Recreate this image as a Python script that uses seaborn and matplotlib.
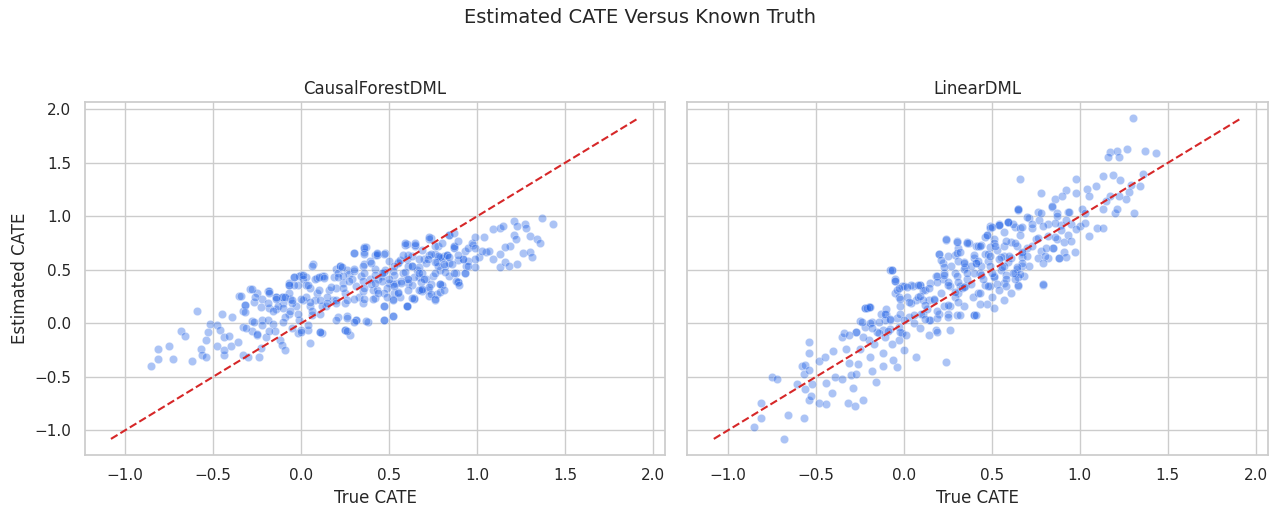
import pandas as pd
import matplotlib
matplotlib.use("Agg")
import matplotlib.pyplot as plt
import seaborn as sns

# CausalForestDML: true CATE vs estimated CATE, read off the picture by region
cf_true_low = [-0.85, -0.81, -0.81, -0.75, -0.73, -0.68, -0.66, -0.62, -0.59, -0.57,
               -0.56, -0.54, -0.54, -0.53, -0.52, -0.48, -0.48, -0.46, -0.45, -0.44,
               -0.44, -0.44, -0.41, -0.40, -0.39, -0.36, -0.35, -0.33, -0.33, -0.32,
               -0.33, -0.30, -0.29, -0.28, -0.28, -0.27, -0.25, -0.25, -0.24, -0.23,
               -0.22, -0.22, -0.20, -0.19, -0.19, -0.18, -0.16, -0.15, -0.14, -0.12,
               -0.11, -0.10, -0.10, -0.09, -0.07, -0.07, -0.06, -0.04, -0.03, -0.02,
               -0.02, -0.01, 0.00, 0.01, 0.03, 0.04, 0.05, 0.07, 0.09, 0.09,
               0.12, 0.12, 0.14, 0.18, 0.20, 0.22, 0.25, 0.26, 0.26, 0.28,
               0.30, 0.31, 0.36, 0.36, 0.38, 0.42]
cf_est_low = [-0.40, -0.24, -0.33, -0.21, -0.33, -0.07, -0.12, -0.35, 0.12, -0.24,
              -0.30, -0.31, -0.16, -0.08, -0.01, -0.21, -0.02, -0.06, 0.09, -0.13,
              -0.30, -0.25, -0.12, -0.21, 0.06, -0.17, 0.26, -0.03, 0.12, 0.17,
              -0.30, -0.31, 0.32, 0.02, -0.07, 0.20, -0.11, 0.28, -0.31, -0.23,
              0.23, 0.03, -0.13, 0.03, 0.30, 0.14, -0.01, -0.07, 0.25, -0.16,
              -0.20, 0.19, 0.25, -0.25, 0.36, 0.09, 0.23, 0.43, 0.16, 0.36,
              -0.09, 0.03, 0.45, 0.22, 0.43, -0.06, -0.18, 0.55, 0.42, 0.28,
              -0.09, 0.44, 0.16, 0.22, 0.51, 0.54, -0.06, 0.07, 0.50, -0.11,
              0.66, 0.03, 0.71, 0.67, 0.01, 0.64]

cf_true_mid = [-0.18, -0.14, -0.11, -0.07, -0.04, -0.01, 0.01, 0.03, 0.06, 0.08,
               0.10, 0.13, 0.16, 0.19, 0.22, 0.24, 0.25, 0.27, 0.30, 0.31,
               0.33, 0.36, 0.37, 0.39, 0.41, 0.42, 0.43, 0.46, 0.48, 0.50,
               0.53, 0.55, 0.58, 0.60, 0.61, 0.63, 0.65, 0.67, 0.70, 0.72,
               0.74, 0.76, 0.77, 0.79, 0.81, 0.84, 0.87, 0.89, 0.92, 0.21,
               0.26, 0.31, 0.37, 0.47, 0.52, 0.60, 0.64, 0.12, 0.08, 0.05,
               0.00, 0.11, 0.25, 0.06, -0.14, -0.09, 0.20, 0.35, 0.42, 0.56,
               0.69, 0.80, 0.88, 0.94, 0.20, 0.29, 0.34, 0.44, 0.48, 0.39,
               0.52, 0.60, 0.66, 0.71, 0.77, 0.82, 0.75, 0.60, 0.54, 0.35,
               0.25, 0.15, 0.03, -0.05, -0.13, -0.07, 0.05, 0.21, 0.24, 0.30,
               0.63, 0.69, 0.78, 0.80]
cf_est_mid = [0.30, 0.25, 0.25, 0.28, 0.36, 0.44, 0.41, 0.36, 0.54, 0.41,
              0.31, 0.44, 0.31, 0.43, 0.54, 0.38, 0.28, 0.46, 0.66, 0.35,
              0.25, 0.55, 0.71, 0.41, 0.31, 0.51, 0.65, 0.44, 0.66, 0.38,
              0.28, 0.57, 0.47, 0.74, 0.38, 0.54, 0.72, 0.43, 0.60, 0.31,
              0.80, 0.65, 0.27, 0.50, 0.63, 0.44, 0.71, 0.39, 0.60, 0.06,
              0.05, 0.03, 0.02, 0.03, 0.07, 0.16, 0.24, 0.16, 0.22, 0.16,
              -0.06, -0.08, -0.06, 0.08, 0.13, 0.06, 0.22, 0.19, 0.24, 0.25,
              0.30, 0.36, 0.47, 0.54, 0.33, 0.41, 0.44, 0.41, 0.50, 0.58,
              0.49, 0.41, 0.50, 0.41, 0.57, 0.54, 0.44, 0.60, 0.38, 0.30,
              0.19, 0.25, 0.25, 0.19, 0.16, 0.38, 0.33, 0.47, 0.44, 0.49,
              0.63, 0.69, 0.72, 0.61]

cf_true_core = [0.23, 0.30, -0.04, 0.01, 0.10, 0.13, 0.21, 0.27, -0.07, 0.04,
                0.17, 0.24, -0.28, -0.34, -0.26, -0.18, -0.14, -0.09, -0.05, 0.00,
                0.05, 0.11, 0.15, 0.20, 0.26, 0.30, -0.32, -0.23, -0.19, -0.16,
                -0.10, -0.06, -0.02, 0.06, 0.11, -0.32, -0.27, -0.31, -0.22, -0.18,
                -0.25, -0.10, -0.05, 0.04, 0.00, 0.11, 0.20, 0.26, 0.30,
                0.36, 0.36, 0.43, 0.47, 0.59, 0.65, 0.73, 0.84, 0.87, 0.93,
                0.98, 0.73, 0.79, 0.83, 0.35, 0.40, 0.50, 0.55, 0.61, 0.67,
                0.71, 0.78, 0.84, 0.89, 0.95, 0.99, 0.36, 0.42, 0.47, 0.53,
                0.59, 0.64, 0.69, 0.76, 0.82, 0.87, 0.93, 0.35, 0.40, 0.46,
                0.52, 0.57, 0.63, 0.68, 0.74, 0.79, 0.89, 0.36, 0.43, 0.49,
                0.55, 0.61, 0.68, 0.73, 0.79, 0.36, 0.41, 0.47, 0.52, 0.64,
                0.73, 0.76, 0.47, 0.60]
cf_est_core = [0.53, 0.51, 0.43, 0.45, 0.43, 0.42, 0.43, 0.40, 0.36, 0.36,
               0.34, 0.33, 0.32, 0.26, 0.25, 0.28, 0.23, 0.25, 0.22, 0.23,
               0.20, 0.22, 0.19, 0.19, 0.22, 0.23, 0.17, 0.15, 0.19, 0.12,
               0.14, 0.12, 0.09, 0.12, 0.09, 0.11, 0.01, -0.04, -0.02, -0.07,
               -0.10, 0.01, -0.04, -0.02, -0.08, -0.08, 0.03, -0.07, 0.01,
               0.70, 0.65, 0.64, 0.65, 0.73, 0.73, 0.79, 0.83, 0.70, 0.68,
               0.73, 0.64, 0.62, 0.64, 0.54, 0.56, 0.58, 0.56, 0.54, 0.53,
               0.56, 0.54, 0.56, 0.59, 0.58, 0.53, 0.47, 0.45, 0.48, 0.45,
               0.48, 0.43, 0.47, 0.47, 0.48, 0.47, 0.47, 0.40, 0.37, 0.40,
               0.37, 0.40, 0.36, 0.39, 0.37, 0.37, 0.39, 0.33, 0.31, 0.33,
               0.29, 0.31, 0.31, 0.34, 0.29, 0.23, 0.23, 0.28, 0.23, 0.23,
               0.26, 0.22, 0.16, 0.16]

cf_true_high = [0.43, 0.47, 0.52, 0.47, 0.60, 0.59, 0.65, 0.63, 0.67, 0.69,
                0.73, 0.74, 0.76, 0.79, 0.81, 0.84, 0.87, 0.88, 0.90, 0.93,
                0.78, 0.74, 0.83, 0.87, 0.95, 0.97, 0.99, 1.04, 1.01, 1.05,
                1.09, 1.13, 1.15, 1.13, 1.16, 1.18, 1.21, 1.23, 1.27, 1.28,
                1.30, 1.21, 1.22, 1.19, 1.16, 1.13, 1.09, 1.23, 1.26, 1.30,
                1.31, 1.34, 1.36, 1.37, 1.43, 1.07, 0.99, 1.03, 0.92, 0.89,
                0.84, 0.81, 0.95, 0.99, 0.76, 0.61, 0.56, 0.53, 0.58, 0.63,
                0.67, 0.70, 0.61, 0.57, 0.53, 0.50, 0.46, 0.42, 0.49, 0.55,
                0.52, 0.44, 0.76, 0.86, 0.72, 0.67, 0.80, 0.89]
cf_est_high = [0.66, 0.03, 0.07, 0.16, 0.16, 0.75, 0.75, 0.24, 0.31, 0.32,
               0.81, 0.27, 0.23, 0.37, 0.31, 0.83, 0.84, 0.40, 0.36, 0.47,
               0.63, 0.65, 0.64, 0.72, 0.70, 0.75, 0.81, 0.81, 0.62, 0.67,
               0.88, 0.89, 0.91, 0.53, 0.57, 0.54, 0.96, 0.91, 0.93, 0.89,
               0.82, 0.83, 0.79, 0.72, 0.71, 0.65, 0.60, 0.55, 0.66, 0.67,
               0.62, 0.79, 0.75, 0.98, 0.93, 0.68, 0.70, 0.68, 0.60, 0.64,
               0.62, 0.55, 0.54, 0.60, 0.72, 0.64, 0.59, 0.54, 0.64, 0.54,
               0.47, 0.41, 0.41, 0.38, 0.35, 0.41, 0.47, 0.38, 0.25, 0.28,
               0.22, 0.28, 0.57, 0.55, 0.60, 0.60, 0.75, 0.77]

# LinearDML
lin_true_low = [-0.68, -0.85, -0.81, -0.81, -0.66, -0.57, -0.75, -0.72, -0.61, -0.58,
                -0.56, -0.57, -0.54, -0.54, -0.54, -0.56, -0.54, -0.53, -0.52, -0.48,
                -0.48, -0.45, -0.44, -0.44, -0.41, -0.40, -0.39, -0.35, -0.35, -0.34,
                -0.33, -0.32, -0.31, -0.30, -0.29, -0.28, -0.27, -0.27, -0.26, -0.25,
                -0.23, -0.22, -0.20, -0.18, -0.18, -0.16, -0.12, -0.10, -0.07, -0.05,
                -0.04, -0.06, -0.12, -0.19, -0.20, -0.23, 0.07, 0.24, 0.00, -0.03,
                -0.07, -0.01, -0.05, -0.01, 0.05, 0.09, 0.12, 0.20, 0.22, 0.24,
                0.30, 0.31, 0.29, 0.37, 0.41, 0.40, 0.18, 0.14, 0.07, 0.11,
                0.03, -0.03, -0.12, -0.08, -0.14, -0.22, -0.17, 0.18, 0.26, 0.14,
                0.20, 0.26, 0.31, 0.35, 0.26, 0.29, 0.22, 0.35, 0.41, 0.39,
                0.43]
lin_est_low = [-1.08, -0.97, -0.88, -0.74, -0.86, -0.88, -0.50, -0.52, -0.57, -0.40,
               -0.39, -0.47, -0.44, -0.17, -0.28, -0.61, -0.72, -0.68, -0.57, -0.35,
               -0.74, -0.31, -0.75, -0.56, -0.65, -0.26, -0.50, -0.52, -0.13, -0.09,
               -0.24, -0.74, -0.37, -0.48, -0.60, -0.77, -0.08, -0.47, -0.38, -0.24,
               -0.72, 0.14, 0.15, 0.01, -0.45, -0.55, -0.40, 0.09, 0.50, 0.40,
               -0.41, -0.34, -0.28, -0.31, -0.16, -0.13, -0.31, -0.36, -0.25, -0.16,
               -0.19, -0.09, 0.28, 0.35, 0.35, 0.36, 0.31, 0.65, 0.56, 0.78,
               0.77, 0.70, 0.64, 0.75, 0.72, 0.08, 0.44, 0.22, 0.22, 0.09,
               0.06, -0.03, -0.06, 0.03, -0.09, -0.03, -0.19, -0.06, -0.06, 0.03,
               0.09, 0.16, 0.28, 0.35, 0.35, 0.47, 0.41, 0.53, 0.56, 0.25,
               0.47]

lin_true_mid = [0.65, 0.59, 0.54, 0.49, 0.47, 0.24, 0.30, 0.20, 0.36, 0.42,
                0.30, 0.34, 0.40, 0.46, 0.53, 0.61, 0.67, -0.08, -0.05, -0.22,
                -0.20, -0.25, -0.19, -0.13, -0.10, -0.04, 0.00, 0.04, 0.09, 0.02,
                -0.02, 0.04, 0.08, 0.11, 0.15, 0.19, 0.23, 0.27, 0.25, 0.21,
                0.17, 0.13, 0.10, 0.15, 0.23, 0.29, 0.32, 0.36, 0.40, 0.44,
                0.48, 0.51, 0.55, 0.59, 0.63, 0.67, 0.65, 0.49, 0.42, 0.34,
                0.40, 0.30, 0.25, 0.19, -0.02, -0.08, -0.15, 0.06, -0.04, -0.11,
                0.11, -0.03, 0.25, 0.51, 0.57, 0.63, 0.49, 0.57, 0.38, 0.30,
                0.61, 0.57, 0.68]
lin_est_mid = [1.07, 0.95, 0.93, 0.91, 0.83, 0.79, 0.76, 0.65, 0.76, 0.72,
               0.66, 0.57, 0.61, 0.65, 0.69, 0.76, 0.66, 0.50, 0.41, 0.14,
               0.15, 0.02, 0.00, 0.09, 0.13, 0.31, 0.35, 0.36, 0.36, 0.25,
               0.16, 0.19, 0.25, 0.31, 0.38, 0.44, 0.47, 0.54, 0.39, 0.28,
               0.22, 0.13, 0.09, 0.03, 0.16, 0.25, 0.35, 0.41, 0.47, 0.54,
               0.58, 0.44, 0.50, 0.57, 0.47, 0.54, 0.35, 0.35, 0.28, 0.16,
               0.08, 0.08, 0.09, 0.05, -0.08, -0.05, -0.08, 0.00, 0.05, 0.03,
               0.22, 0.25, 0.63, 0.79, 0.85, 0.90, 0.71, 0.63, 0.54, 0.44,
               0.28, 0.38, 0.44]

lin_true_core = [-0.07, -0.05, -0.21, -0.19, -0.03, 0.02, 0.08, -0.02, 0.03, 0.09,
                 0.14, 0.19, 0.23, 0.25, 0.31, 0.29, 0.33, 0.17, 0.12, 0.19,
                 0.25, 0.31, 0.32, 0.25, -0.11, -0.08, -0.14, -0.02, 0.00, 0.06,
                 0.12, -0.24, -0.27, -0.18, -0.09, 0.01, 0.09, 0.14, 0.19, -0.11,
                 -0.31, 0.21, 0.23, 0.31, 0.34,
                 0.65, 0.76, 0.84, 0.87, 0.93, 0.59, 0.71, 0.77, 0.82, 0.89,
                 0.95, 0.54, 0.49, 0.62, 0.66, 0.73, 0.46, 0.66, 0.75, 0.87,
                 0.91, 0.97, 0.36, 0.44, 0.51, 0.57, 0.64, 0.70, 0.78, 0.85,
                 0.32, 0.40, 0.48, 0.55, 0.61, 0.67, 0.76, 0.82, 0.88, 0.34,
                 0.42, 0.49, 0.57, 0.64, 0.71, 0.36, 0.44, 0.51, 0.58, 0.65,
                 0.38, 0.46, 0.53, 0.65, 0.79, 0.34]
lin_est_core = [0.50, 0.40, 0.14, 0.15, 0.33, 0.34, 0.36, 0.23, 0.20, 0.26,
                0.33, 0.39, 0.45, 0.36, 0.39, 0.29, 0.33, 0.23, 0.17, 0.12,
                0.17, 0.20, 0.08, 0.06, 0.09, 0.04, 0.01, 0.09, 0.03, 0.08,
                0.04, 0.01, -0.08, -0.04, -0.07, -0.11, -0.04, -0.11, -0.08, -0.13,
                -0.11, 0.59, 0.53, 0.58, 0.51,
                1.06, 1.04, 1.09, 1.03, 1.04, 0.95, 0.98, 0.97, 0.93, 0.92,
                0.93, 0.92, 0.89, 0.93, 0.89, 0.89, 0.81, 0.83, 0.79, 0.79,
                0.76, 0.67, 0.75, 0.73, 0.75, 0.72, 0.72, 0.70, 0.68, 0.70,
                0.67, 0.64, 0.65, 0.62, 0.61, 0.62, 0.61, 0.61, 0.61, 0.56,
                0.58, 0.54, 0.54, 0.51, 0.54, 0.47, 0.45, 0.43, 0.45, 0.43,
                0.37, 0.36, 0.37, 0.36, 0.36, 0.34]

lin_true_high = [1.30, 1.17, 1.21, 1.27, 1.16, 1.22, 1.37, 1.43, 0.66, 0.78,
                 0.92, 0.98, 0.86, 0.90, 0.98, 1.04, 1.09, 1.05, 1.13, 1.19,
                 1.23, 1.29, 1.34, 1.36, 1.28, 1.26, 1.22, 1.17, 1.15, 1.13,
                 1.20, 1.21, 1.31, 1.01, 1.03, 0.94, 0.84, 0.65, 0.70, 0.78,
                 0.73, 0.67, 0.59, 0.54, 0.50, 0.47, 0.87, 0.86, 0.92, 1.00,
                 0.98, 1.05, 1.10, 1.13, 1.03, 0.79, 0.82, 0.86, 0.89, 0.93,
                 0.95, 0.91, 0.92, 0.88, 0.85, 0.81, 0.80, 0.79, 0.79, 0.76,
                 0.73, 0.70, 0.67, 0.64, 0.66, 0.63, 0.58, 0.57, 0.51, 0.47,
                 0.43, 0.41, 0.50, 0.54, 0.58, 0.48, 0.43, 0.45, 0.50, 0.56,
                 0.60, 0.63, 0.58, 0.52, 0.49, 0.43, 0.41, 0.54, 0.67, 0.62]
lin_est_high = [1.92, 1.60, 1.61, 1.63, 1.55, 1.55, 1.61, 1.59, 1.35, 1.22,
                1.25, 1.35, 1.16, 1.19, 1.22, 1.26, 1.28, 1.19, 1.38, 1.39,
                1.34, 1.29, 1.28, 1.40, 1.23, 1.16, 1.19, 1.19, 1.14, 1.07,
                1.03, 1.07, 1.03, 1.07, 1.03, 1.04, 1.10, 1.07, 0.99, 1.03,
                0.93, 0.90, 0.95, 0.92, 0.90, 0.83, 1.00, 0.94, 0.97, 0.91,
                0.88, 0.82, 0.89, 0.89, 0.94, 0.91, 0.82, 0.81, 0.87, 0.83,
                0.77, 0.67, 0.62, 0.61, 0.70, 0.70, 0.63, 0.56, 0.37, 0.80,
                0.72, 0.63, 0.56, 0.53, 0.46, 0.41, 0.41, 0.22, 0.14, 0.18,
                0.18, 0.08, 0.25, 0.31, 0.35, 0.35, 0.28, 0.41, 0.47, 0.53,
                0.63, 0.75, 0.77, 0.72, 0.63, 0.72, 0.56, 0.60, 0.67, 0.47]

models = ["CausalForestDML", "LinearDML"]

cf = pd.DataFrame({"true": cf_true_low + cf_true_mid + cf_true_core + cf_true_high,
                   "est": cf_est_low + cf_est_mid + cf_est_core + cf_est_high})
lin = pd.DataFrame({"true": lin_true_low + lin_true_mid + lin_true_core + lin_true_high,
                    "est": lin_est_low + lin_est_mid + lin_est_core + lin_est_high})
frames = [cf, lin]

sns.set_theme(style="whitegrid")

fig, axes = plt.subplots(1, 2, figsize=(12.81, 5.17), dpi=100, sharex=True, sharey=True)

# identity line spans the full range of both models
lo = min(min(d["true"].min(), d["est"].min()) for d in frames)
hi = max(max(d["true"].max(), d["est"].max()) for d in frames)

for ax, name, d in zip(axes, models, frames):
    sns.scatterplot(data=d, x="true", y="est", ax=ax, color="#2262e6",
                    alpha=0.38, s=36, edgecolor="white", linewidth=0.5)
    ax.plot([lo, hi], [lo, hi], color="#d62728", linestyle="--", linewidth=1.5)
    ax.set_title(name, fontsize=12)
    ax.set_xlabel("True CATE")
    ax.set_ylabel("Estimated CATE")

axes[1].set_ylabel("")
fig.suptitle("Estimated CATE Versus Known Truth", fontsize=14, y=0.985)
fig.subplots_adjust(left=0.066, right=0.99, top=0.803, bottom=0.12, wspace=0.038)
fig.savefig("out.png", dpi=100)
